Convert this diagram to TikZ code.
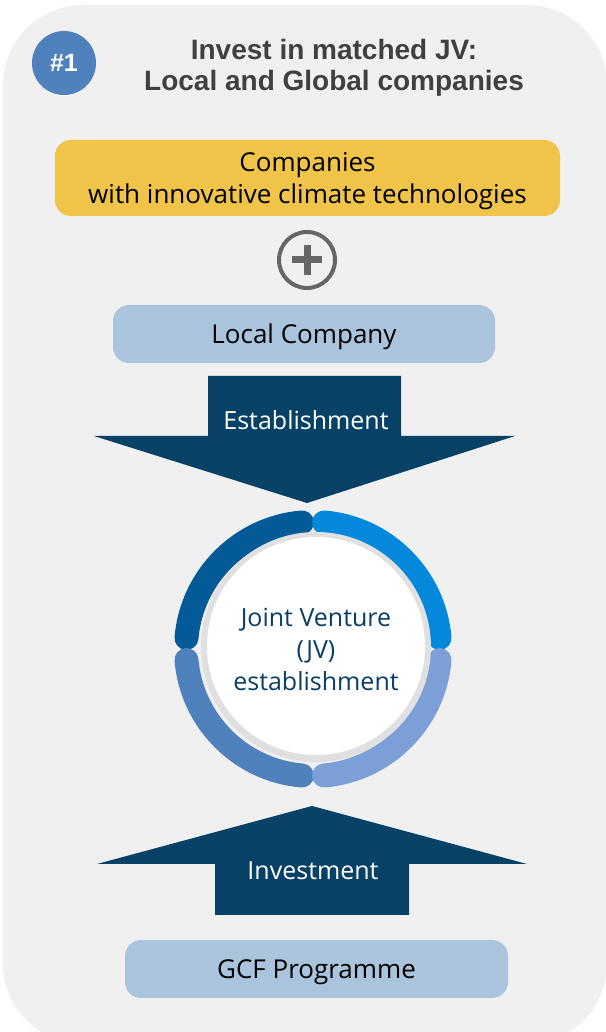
\documentclass[tikz,border=0pt]{standalone}
\usepackage{fontspec}
\setmainfont{Open Sans}
\newfontfamily\headfont{Liberation Sans}
\usetikzlibrary{calc,positioning}

\definecolor{panelgray}{HTML}{F0F0F0}
\definecolor{badgeblue}{HTML}{4F81BD}
\definecolor{headgray}{HTML}{404040}
\definecolor{techyellow}{HTML}{F0C448}
\definecolor{boxblue}{HTML}{A9C4DC}
\definecolor{arrownavy}{HTML}{074166}
\definecolor{jvtext}{HTML}{0B3E66}
\definecolor{segA}{HTML}{035A96}
\definecolor{segB}{HTML}{0388DC}
\definecolor{segC}{HTML}{4F81BD}
\definecolor{segD}{HTML}{7B9FD6}

\tikzset{
  partybox/.style={rounded corners=16, inner sep=0pt, align=center, text depth=0pt,
    font=\fontsize{26}{32}\selectfont},
  arrowlabel/.style={text=white, font=\fontsize{25}{30}\selectfont},
  ringseg/.style={line width=24, line cap=round}
}

\begin{document}
\begin{tikzpicture}[x=1pt,y=1pt]
\useasboundingbox (0,0) rectangle (605,1032);

% background panel
\fill[panelgray,rounded corners=80] (3,-12) rectangle (607,1027);

% heading
\node[circle,fill=badgeblue,minimum size=64,inner sep=0pt,
      text=white,font=\headfont\bfseries\fontsize{25}{28}\selectfont] (badge) at (64,969) {\#1};
\node[align=center,text=headgray,font=\headfont\bfseries\fontsize{28}{31}\selectfont] (title) at (334,964)
  {Invest in matched JV:\\Local and Global companies};

% partners
\node[partybox,fill=techyellow,minimum width=505,minimum height=76] (tech) at (307.5,854)
  {Companies\\with innovative climate technologies};
\coordinate (plus) at (307,772);
\draw[line width=4,color=headgray!80] (plus) circle[radius=28];
\draw[line width=7,color=headgray!80] ($(plus)+(-15,0)$) -- ($(plus)+(15,0)$);
\draw[line width=7,color=headgray!80] ($(plus)+(0,-15)$) -- ($(plus)+(0,15)$);
\node[partybox,fill=boxblue,minimum width=382,minimum height=58] (local) at (304,698) {Local Company};

% establishment arrow
\fill[arrownavy] (208,656) -- (401,656) -- (401,596) -- (515,596) -- (307,529)
  -- (94,596) -- (208,596) -- cycle;
\node[arrowlabel] (estab) at (306,612) {Establishment};

% JV ring
\coordinate (jv) at (313,383);
\draw[ringseg,segA] (jv) ++(95:127) arc[start angle=95,end angle=175,radius=127];
\draw[ringseg,segB] (jv) ++(5:127) arc[start angle=5,end angle=85,radius=127];
\draw[ringseg,segC] (jv) ++(185:127) arc[start angle=185,end angle=265,radius=127];
\draw[ringseg,segD] (jv) ++(275:127) arc[start angle=275,end angle=355,radius=127];
\fill[black!12] (316,385) circle[radius=115];
\fill[white] (316,386) circle[radius=109];
\node[align=center,text=jvtext,font=\fontsize{25}{32}\selectfont] (jvtext) at (316,383)
  {Joint Venture\\(JV)\\establishment};

% investment arrow
\fill[arrownavy] (215,117) -- (409,117) -- (409,168) -- (527,168) -- (312,226)
  -- (97,168) -- (215,168) -- cycle;
\node[arrowlabel] (invest) at (313,161) {Investment};

\node[partybox,fill=boxblue,minimum width=383,minimum height=58] (gcf) at (316.5,63) {GCF Programme};
\end{tikzpicture}
\end{document}
